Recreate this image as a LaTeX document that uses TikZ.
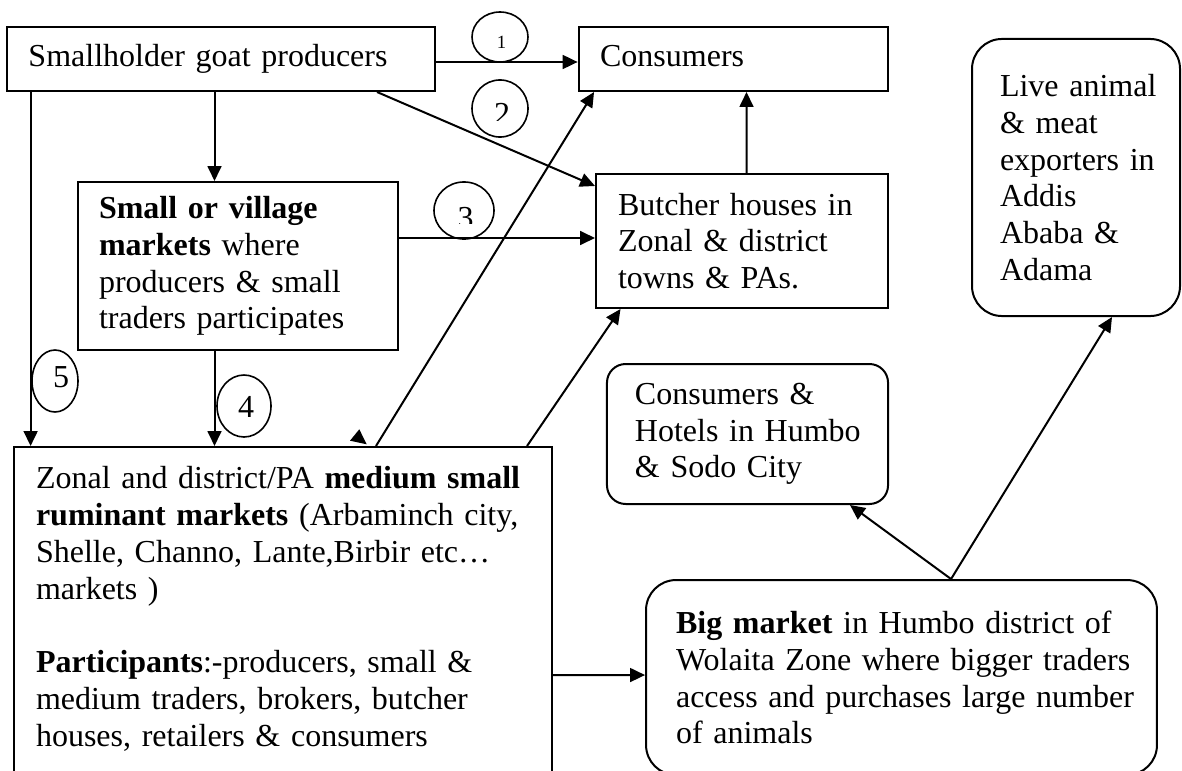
\documentclass[tikz,border=0pt]{standalone}
\usepackage{fontspec}
\setmainfont{Liberation Serif}
\usetikzlibrary{arrows.meta,calc,shapes.geometric}
\begin{document}
\begin{tikzpicture}[x=0.375pt,y=-0.375pt,
  box/.style={draw,line width=0.75pt,align=left,inner ysep=0pt,
    font=\fontsize{12}{13.8}\selectfont},
  oval/.style={draw,ellipse,line width=0.6pt,inner sep=0pt},
  digit/.style={anchor=base,inner sep=0pt,font=\fontsize{12}{13.8}\selectfont},
  arr/.style={line width=0.75pt,-{Triangle[length=5.6pt,width=5.2pt]}}
]
\useasboundingbox (0,0) rectangle (1182,770);
\fill[white] (0,0) rectangle (1182,770);
\clip (0,0) rectangle (1182,770);

% boxes
\node[box,minimum width=160.5pt,minimum height=24pt,inner xsep=8.06pt,text width=144.38pt]
  (prod) at (221,59) {\mbox{\strut Smallholder goat producers}};
\node[box,minimum width=116pt,minimum height=24pt,inner xsep=8.06pt,text width=99.88pt]
  (cons) at (733.3,59) {\strut Consumers};
\node[box,minimum width=109.5pt,minimum height=50.25pt,inner xsep=8.25pt,text width=93pt]
  (butch) at (742,241) {\mbox{Butcher houses in}\\\mbox{Zonal \& district}\\\mbox{towns \& PAs.}};
\node[box,minimum width=120pt,minimum height=63pt,inner xsep=7.875pt,text width=104.25pt]
  (vill) at (238,266) {\mbox{\textbf{Small or village}}\\\mbox{\textbf{markets} where}\\\mbox{producers \& small}\\\mbox{traders participates}};
\node[box,anchor=north,minimum width=201.75pt,inner xsep=8.25pt,inner ysep=7.3pt,text width=185.25pt]
  (med) at (283,446) {\mbox{Zonal and district/PA \textbf{medium small}}\\
  \mbox{\textbf{ruminant markets} (Arbaminch city,}\\
  \mbox{Shelle, Channo, Lante,Birbir etc…}\\
  \mbox{markets )}\\ \mbox{}\\
  \mbox{\textbf{Participants}:-producers, small \&}\\
  \mbox{medium traders, brokers, butcher}\\
  \mbox{houses, retailers \& consumers}\\ \mbox{}};
\node[box,rounded corners=11.25pt,minimum width=78pt,minimum height=103.9pt,inner xsep=10.5pt,text width=57pt]
  (live) at (1076,177.5) {\mbox{Live animal}\\\mbox{\& meat}\\\mbox{exporters in}\\Addis\\\mbox{Ababa \&}\\Adama};
\node[box,rounded corners=7pt,minimum width=105.4pt,minimum height=52.5pt,inner xsep=10.5pt,text width=84.4pt]
  (hotel) at (747.5,434) {\mbox{Consumers \&}\\\mbox{Hotels in Humbo}\\\mbox{\& Sodo City}};
\node[box,rounded corners=11.25pt,minimum width=191.6pt,minimum height=73.1pt,inner xsep=11.25pt,text width=169.1pt]
  (big) at (901.5,677.5) {\mbox{\textbf{Big market} in Humbo district of}\\
  \mbox{Wolaita Zone where bigger traders}\\
  \mbox{access and purchases large number}\\
  \mbox{of animals}};

% numbered ovals
\node[oval,minimum width=21pt,minimum height=18.75pt] (c1) at (500,37) {};
\node[oval,minimum width=21pt,minimum height=21.4pt] (c2) at (500,108.5) {};
\node[oval,minimum width=22.5pt,minimum height=21.4pt] (c3) at (464,210.5) {};
\node[oval,minimum width=17.25pt,minimum height=23.25pt] (c5) at (55,381) {};
\node[oval,minimum width=20.25pt,minimum height=23.25pt] (c4) at (244,406) {};

\node[digit,font=\fontsize{7}{8}\selectfont] (d1) at (501.5,49) {1};
\begin{scope}
  \clip (480,90) rectangle (525,121);
  \node[digit] (d2) at (502,124.5) {2};
\end{scope}
\begin{scope}
  \clip (440,195) rectangle (490,223);
  \node[digit] (d3) at (465.5,228.6) {3};
\end{scope}
\node[digit] (d5) at (61,387) {5};
\node[digit] (d4) at (246,417) {4};

% connectors
\draw[arr] ($(prod.east)+(0,3)$) -- ($(cons.west)+(0,3)$);
\draw[arr] ($(prod.south west)+(371,0)$) -- ($(butch.north west)+(0,13)$);
\draw[arr] ($(prod.south west)+(208.5,0)$) -- ($(vill.north west)+(137.5,0)$);
\draw[arr] ($(vill.north east)+(0,57)$) -- ($(butch.north west)+(0,65)$);
\draw[arr] ($(butch.north)+(4.5,0)$) -- ($(cons.south)+(13.2,0)$);
\draw[arr] ($(vill.south west)+(137.5,0)$) -- ($(med.north west)+(201.5,0)$);
\draw[arr] ($(prod.south west)+(24.6,0)$) -- ($(med.north west)+(17.6,0)$);
\draw[arr] ($(med.north west)+(363,0)$) -- ($(cons.south west)+(16.4,0)$);
\draw[arr] ($(med.north west)+(514,0)$) -- ($(butch.south west)+(25.5,0)$);
\draw[arr] ($(med.north east)+(0,229)$) -- ($(big.north west)+(0,96)$);
\draw[arr] ($(big.north west)+(306,0)$) -- ($(hotel.south west)+(244,0)$);
\draw[arr] ($(big.north west)+(306,0)$) -- ($(live.south west)+(141,0)$);
% stray arrow head at the medium market box
\fill (359.3,429.3) -- (350,440.7) -- (366.7,444.3) -- cycle;
\end{tikzpicture}
\end{document}
